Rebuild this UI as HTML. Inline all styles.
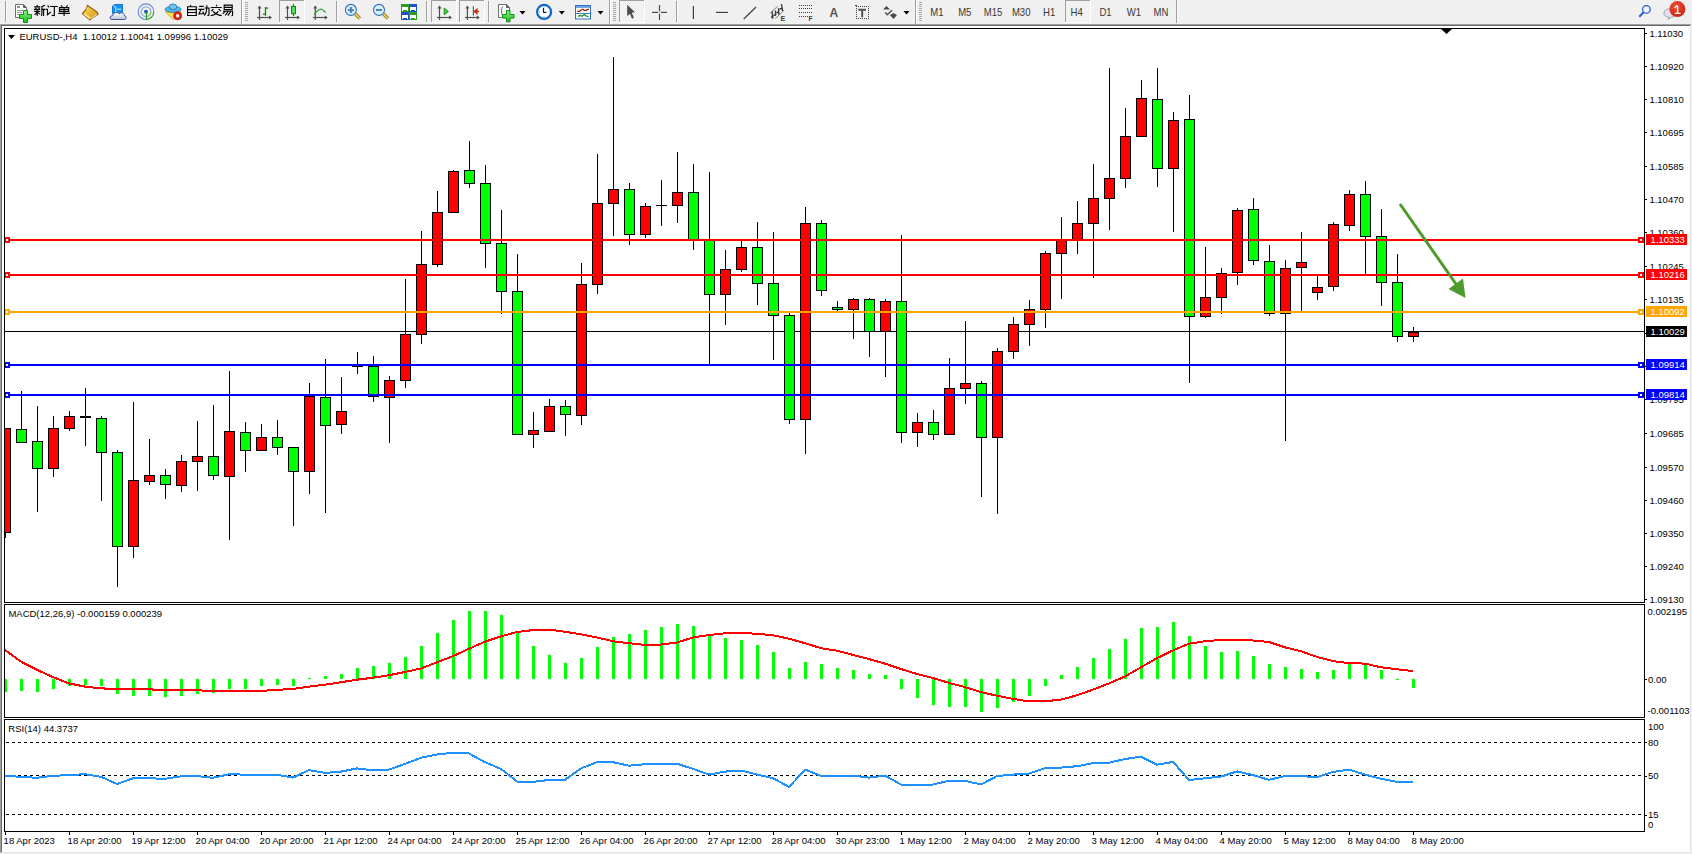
<!DOCTYPE html><html><head><meta charset="utf-8"><style>html,body{margin:0;padding:0;background:#f0f0f0;width:1692px;height:854px;overflow:hidden}svg{display:block;position:absolute;left:0;top:0}</style></head><body>
<svg width="1692" height="854" viewBox="0 0 1692 854" style="font-family:'Liberation Sans', sans-serif">
<rect x="0" y="0" width="1692" height="854" fill="#f0f0f0"/>
<g shape-rendering="crispEdges">
<rect x="0" y="24" width="1691" height="830" fill="#ffffff"/>
<rect x="0" y="24" width="1691" height="1" fill="#a0a0a0"/>
<rect x="0" y="25" width="1690" height="1" fill="#696969"/>
<rect x="0" y="24" width="1" height="830" fill="#a0a0a0"/>
<rect x="1" y="25" width="1" height="829" fill="#696969"/>
<rect x="1690" y="25" width="1" height="828" fill="#e3e3e3"/>
<rect x="1691" y="24" width="1" height="830" fill="#f0f0f0"/>
<rect x="1" y="852" width="1690" height="1" fill="#e3e3e3"/>
<rect x="0" y="853" width="1692" height="1" fill="#f0f0f0"/>
</g>
<defs><clipPath id="cm"><rect x="5" y="29" width="1639" height="573"/></clipPath></defs>
<g shape-rendering="crispEdges">
<g clip-path="url(#cm)">
<rect x="5" y="331" width="1639" height="1" fill="#000"/>
<rect x="5" y="428" width="1" height="110" fill="#000"/>
<rect x="0" y="428" width="11" height="105" fill="#000"/>
<rect x="1" y="429" width="9" height="103" fill="#ff0000"/>
<rect x="21" y="391" width="1" height="52" fill="#000"/>
<rect x="16" y="429" width="11" height="14" fill="#000"/>
<rect x="17" y="430" width="9" height="12" fill="#00ff00"/>
<rect x="37" y="406" width="1" height="106" fill="#000"/>
<rect x="32" y="441" width="11" height="28" fill="#000"/>
<rect x="33" y="442" width="9" height="26" fill="#00ff00"/>
<rect x="53" y="416" width="1" height="61" fill="#000"/>
<rect x="48" y="428" width="11" height="41" fill="#000"/>
<rect x="49" y="429" width="9" height="39" fill="#ff0000"/>
<rect x="69" y="411" width="1" height="20" fill="#000"/>
<rect x="64" y="416" width="11" height="13" fill="#000"/>
<rect x="65" y="417" width="9" height="11" fill="#ff0000"/>
<rect x="85" y="388" width="1" height="58" fill="#000"/>
<rect x="80" y="416" width="11" height="2" fill="#000"/>
<rect x="101" y="416" width="1" height="85" fill="#000"/>
<rect x="96" y="418" width="11" height="35" fill="#000"/>
<rect x="97" y="419" width="9" height="33" fill="#00ff00"/>
<rect x="117" y="450" width="1" height="137" fill="#000"/>
<rect x="112" y="452" width="11" height="95" fill="#000"/>
<rect x="113" y="453" width="9" height="93" fill="#00ff00"/>
<rect x="133" y="402" width="1" height="156" fill="#000"/>
<rect x="128" y="480" width="11" height="67" fill="#000"/>
<rect x="129" y="481" width="9" height="65" fill="#ff0000"/>
<rect x="149" y="439" width="1" height="46" fill="#000"/>
<rect x="144" y="475" width="11" height="7" fill="#000"/>
<rect x="145" y="476" width="9" height="5" fill="#ff0000"/>
<rect x="165" y="469" width="1" height="30" fill="#000"/>
<rect x="160" y="475" width="11" height="10" fill="#000"/>
<rect x="161" y="476" width="9" height="8" fill="#00ff00"/>
<rect x="181" y="455" width="1" height="37" fill="#000"/>
<rect x="176" y="461" width="11" height="25" fill="#000"/>
<rect x="177" y="462" width="9" height="23" fill="#ff0000"/>
<rect x="197" y="421" width="1" height="70" fill="#000"/>
<rect x="192" y="456" width="11" height="6" fill="#000"/>
<rect x="193" y="457" width="9" height="4" fill="#ff0000"/>
<rect x="213" y="405" width="1" height="75" fill="#000"/>
<rect x="208" y="456" width="11" height="20" fill="#000"/>
<rect x="209" y="457" width="9" height="18" fill="#00ff00"/>
<rect x="229" y="371" width="1" height="169" fill="#000"/>
<rect x="224" y="431" width="11" height="46" fill="#000"/>
<rect x="225" y="432" width="9" height="44" fill="#ff0000"/>
<rect x="245" y="422" width="1" height="50" fill="#000"/>
<rect x="240" y="432" width="11" height="19" fill="#000"/>
<rect x="241" y="433" width="9" height="17" fill="#00ff00"/>
<rect x="261" y="424" width="1" height="26" fill="#000"/>
<rect x="256" y="437" width="11" height="14" fill="#000"/>
<rect x="257" y="438" width="9" height="12" fill="#ff0000"/>
<rect x="277" y="420" width="1" height="35" fill="#000"/>
<rect x="272" y="437" width="11" height="11" fill="#000"/>
<rect x="273" y="438" width="9" height="9" fill="#00ff00"/>
<rect x="293" y="447" width="1" height="79" fill="#000"/>
<rect x="288" y="447" width="11" height="25" fill="#000"/>
<rect x="289" y="448" width="9" height="23" fill="#00ff00"/>
<rect x="309" y="383" width="1" height="111" fill="#000"/>
<rect x="304" y="396" width="11" height="76" fill="#000"/>
<rect x="305" y="397" width="9" height="74" fill="#ff0000"/>
<rect x="325" y="359" width="1" height="154" fill="#000"/>
<rect x="320" y="397" width="11" height="29" fill="#000"/>
<rect x="321" y="398" width="9" height="27" fill="#00ff00"/>
<rect x="341" y="377" width="1" height="57" fill="#000"/>
<rect x="336" y="411" width="11" height="14" fill="#000"/>
<rect x="337" y="412" width="9" height="12" fill="#ff0000"/>
<rect x="357" y="352" width="1" height="22" fill="#000"/>
<rect x="352" y="366" width="11" height="1" fill="#000"/>
<rect x="373" y="356" width="1" height="46" fill="#000"/>
<rect x="368" y="366" width="11" height="31" fill="#000"/>
<rect x="369" y="367" width="9" height="29" fill="#00ff00"/>
<rect x="389" y="376" width="1" height="67" fill="#000"/>
<rect x="384" y="380" width="11" height="18" fill="#000"/>
<rect x="385" y="381" width="9" height="16" fill="#ff0000"/>
<rect x="405" y="279" width="1" height="109" fill="#000"/>
<rect x="400" y="334" width="11" height="47" fill="#000"/>
<rect x="401" y="335" width="9" height="45" fill="#ff0000"/>
<rect x="421" y="231" width="1" height="113" fill="#000"/>
<rect x="416" y="264" width="11" height="71" fill="#000"/>
<rect x="417" y="265" width="9" height="69" fill="#ff0000"/>
<rect x="437" y="191" width="1" height="76" fill="#000"/>
<rect x="432" y="212" width="11" height="53" fill="#000"/>
<rect x="433" y="213" width="9" height="51" fill="#ff0000"/>
<rect x="453" y="170" width="1" height="42" fill="#000"/>
<rect x="448" y="171" width="11" height="42" fill="#000"/>
<rect x="449" y="172" width="9" height="40" fill="#ff0000"/>
<rect x="469" y="141" width="1" height="47" fill="#000"/>
<rect x="464" y="170" width="11" height="14" fill="#000"/>
<rect x="465" y="171" width="9" height="12" fill="#00ff00"/>
<rect x="485" y="165" width="1" height="103" fill="#000"/>
<rect x="480" y="183" width="11" height="61" fill="#000"/>
<rect x="481" y="184" width="9" height="59" fill="#00ff00"/>
<rect x="501" y="210" width="1" height="104" fill="#000"/>
<rect x="496" y="243" width="11" height="49" fill="#000"/>
<rect x="497" y="244" width="9" height="47" fill="#00ff00"/>
<rect x="517" y="254" width="1" height="180" fill="#000"/>
<rect x="512" y="291" width="11" height="144" fill="#000"/>
<rect x="513" y="292" width="9" height="142" fill="#00ff00"/>
<rect x="533" y="412" width="1" height="36" fill="#000"/>
<rect x="528" y="430" width="11" height="5" fill="#000"/>
<rect x="529" y="431" width="9" height="3" fill="#ff0000"/>
<rect x="549" y="399" width="1" height="33" fill="#000"/>
<rect x="544" y="406" width="11" height="26" fill="#000"/>
<rect x="545" y="407" width="9" height="24" fill="#ff0000"/>
<rect x="565" y="400" width="1" height="36" fill="#000"/>
<rect x="560" y="406" width="11" height="9" fill="#000"/>
<rect x="561" y="407" width="9" height="7" fill="#00ff00"/>
<rect x="581" y="263" width="1" height="162" fill="#000"/>
<rect x="576" y="284" width="11" height="132" fill="#000"/>
<rect x="577" y="285" width="9" height="130" fill="#ff0000"/>
<rect x="597" y="154" width="1" height="140" fill="#000"/>
<rect x="592" y="203" width="11" height="82" fill="#000"/>
<rect x="593" y="204" width="9" height="80" fill="#ff0000"/>
<rect x="613" y="57" width="1" height="179" fill="#000"/>
<rect x="608" y="189" width="11" height="15" fill="#000"/>
<rect x="609" y="190" width="9" height="13" fill="#ff0000"/>
<rect x="629" y="183" width="1" height="62" fill="#000"/>
<rect x="624" y="189" width="11" height="46" fill="#000"/>
<rect x="625" y="190" width="9" height="44" fill="#00ff00"/>
<rect x="645" y="203" width="1" height="35" fill="#000"/>
<rect x="640" y="206" width="11" height="29" fill="#000"/>
<rect x="641" y="207" width="9" height="27" fill="#ff0000"/>
<rect x="661" y="180" width="1" height="46" fill="#000"/>
<rect x="656" y="205" width="11" height="1" fill="#000"/>
<rect x="677" y="152" width="1" height="71" fill="#000"/>
<rect x="672" y="192" width="11" height="14" fill="#000"/>
<rect x="673" y="193" width="9" height="12" fill="#ff0000"/>
<rect x="693" y="164" width="1" height="86" fill="#000"/>
<rect x="688" y="192" width="11" height="48" fill="#000"/>
<rect x="689" y="193" width="9" height="46" fill="#00ff00"/>
<rect x="709" y="172" width="1" height="192" fill="#000"/>
<rect x="704" y="239" width="11" height="56" fill="#000"/>
<rect x="705" y="240" width="9" height="54" fill="#00ff00"/>
<rect x="725" y="250" width="1" height="75" fill="#000"/>
<rect x="720" y="269" width="11" height="26" fill="#000"/>
<rect x="721" y="270" width="9" height="24" fill="#ff0000"/>
<rect x="741" y="240" width="1" height="32" fill="#000"/>
<rect x="736" y="247" width="11" height="23" fill="#000"/>
<rect x="737" y="248" width="9" height="21" fill="#ff0000"/>
<rect x="757" y="222" width="1" height="83" fill="#000"/>
<rect x="752" y="247" width="11" height="37" fill="#000"/>
<rect x="753" y="248" width="9" height="35" fill="#00ff00"/>
<rect x="773" y="232" width="1" height="128" fill="#000"/>
<rect x="768" y="283" width="11" height="33" fill="#000"/>
<rect x="769" y="284" width="9" height="31" fill="#00ff00"/>
<rect x="789" y="313" width="1" height="111" fill="#000"/>
<rect x="784" y="315" width="11" height="105" fill="#000"/>
<rect x="785" y="316" width="9" height="103" fill="#00ff00"/>
<rect x="805" y="207" width="1" height="247" fill="#000"/>
<rect x="800" y="223" width="11" height="197" fill="#000"/>
<rect x="801" y="224" width="9" height="195" fill="#ff0000"/>
<rect x="821" y="220" width="1" height="76" fill="#000"/>
<rect x="816" y="223" width="11" height="68" fill="#000"/>
<rect x="817" y="224" width="9" height="66" fill="#00ff00"/>
<rect x="837" y="301" width="1" height="10" fill="#000"/>
<rect x="832" y="307" width="11" height="3" fill="#000"/>
<rect x="833" y="308" width="9" height="1" fill="#00ff00"/>
<rect x="853" y="298" width="1" height="41" fill="#000"/>
<rect x="848" y="299" width="11" height="11" fill="#000"/>
<rect x="849" y="300" width="9" height="9" fill="#ff0000"/>
<rect x="869" y="298" width="1" height="59" fill="#000"/>
<rect x="864" y="299" width="11" height="33" fill="#000"/>
<rect x="865" y="300" width="9" height="31" fill="#00ff00"/>
<rect x="885" y="299" width="1" height="78" fill="#000"/>
<rect x="880" y="301" width="11" height="31" fill="#000"/>
<rect x="881" y="302" width="9" height="29" fill="#ff0000"/>
<rect x="901" y="235" width="1" height="208" fill="#000"/>
<rect x="896" y="301" width="11" height="132" fill="#000"/>
<rect x="897" y="302" width="9" height="130" fill="#00ff00"/>
<rect x="917" y="413" width="1" height="34" fill="#000"/>
<rect x="912" y="422" width="11" height="11" fill="#000"/>
<rect x="913" y="423" width="9" height="9" fill="#ff0000"/>
<rect x="933" y="410" width="1" height="30" fill="#000"/>
<rect x="928" y="422" width="11" height="13" fill="#000"/>
<rect x="929" y="423" width="9" height="11" fill="#00ff00"/>
<rect x="949" y="358" width="1" height="76" fill="#000"/>
<rect x="944" y="388" width="11" height="47" fill="#000"/>
<rect x="945" y="389" width="9" height="45" fill="#ff0000"/>
<rect x="965" y="321" width="1" height="83" fill="#000"/>
<rect x="960" y="383" width="11" height="6" fill="#000"/>
<rect x="961" y="384" width="9" height="4" fill="#ff0000"/>
<rect x="981" y="381" width="1" height="116" fill="#000"/>
<rect x="976" y="383" width="11" height="55" fill="#000"/>
<rect x="977" y="384" width="9" height="53" fill="#00ff00"/>
<rect x="997" y="348" width="1" height="166" fill="#000"/>
<rect x="992" y="351" width="11" height="87" fill="#000"/>
<rect x="993" y="352" width="9" height="85" fill="#ff0000"/>
<rect x="1013" y="317" width="1" height="42" fill="#000"/>
<rect x="1008" y="324" width="11" height="28" fill="#000"/>
<rect x="1009" y="325" width="9" height="26" fill="#ff0000"/>
<rect x="1029" y="300" width="1" height="46" fill="#000"/>
<rect x="1024" y="309" width="11" height="16" fill="#000"/>
<rect x="1025" y="310" width="9" height="14" fill="#ff0000"/>
<rect x="1045" y="251" width="1" height="77" fill="#000"/>
<rect x="1040" y="253" width="11" height="57" fill="#000"/>
<rect x="1041" y="254" width="9" height="55" fill="#ff0000"/>
<rect x="1061" y="217" width="1" height="82" fill="#000"/>
<rect x="1056" y="239" width="11" height="15" fill="#000"/>
<rect x="1057" y="240" width="9" height="13" fill="#ff0000"/>
<rect x="1077" y="201" width="1" height="53" fill="#000"/>
<rect x="1072" y="223" width="11" height="17" fill="#000"/>
<rect x="1073" y="224" width="9" height="15" fill="#ff0000"/>
<rect x="1093" y="164" width="1" height="114" fill="#000"/>
<rect x="1088" y="198" width="11" height="26" fill="#000"/>
<rect x="1089" y="199" width="9" height="24" fill="#ff0000"/>
<rect x="1109" y="68" width="1" height="162" fill="#000"/>
<rect x="1104" y="178" width="11" height="21" fill="#000"/>
<rect x="1105" y="179" width="9" height="19" fill="#ff0000"/>
<rect x="1125" y="108" width="1" height="80" fill="#000"/>
<rect x="1120" y="136" width="11" height="43" fill="#000"/>
<rect x="1121" y="137" width="9" height="41" fill="#ff0000"/>
<rect x="1141" y="80" width="1" height="56" fill="#000"/>
<rect x="1136" y="98" width="11" height="39" fill="#000"/>
<rect x="1137" y="99" width="9" height="37" fill="#ff0000"/>
<rect x="1157" y="68" width="1" height="119" fill="#000"/>
<rect x="1152" y="99" width="11" height="70" fill="#000"/>
<rect x="1153" y="100" width="9" height="68" fill="#00ff00"/>
<rect x="1173" y="112" width="1" height="120" fill="#000"/>
<rect x="1168" y="120" width="11" height="49" fill="#000"/>
<rect x="1169" y="121" width="9" height="47" fill="#ff0000"/>
<rect x="1189" y="95" width="1" height="288" fill="#000"/>
<rect x="1184" y="119" width="11" height="198" fill="#000"/>
<rect x="1185" y="120" width="9" height="196" fill="#00ff00"/>
<rect x="1205" y="247" width="1" height="71" fill="#000"/>
<rect x="1200" y="297" width="11" height="20" fill="#000"/>
<rect x="1201" y="298" width="9" height="18" fill="#ff0000"/>
<rect x="1221" y="268" width="1" height="46" fill="#000"/>
<rect x="1216" y="273" width="11" height="25" fill="#000"/>
<rect x="1217" y="274" width="9" height="23" fill="#ff0000"/>
<rect x="1237" y="208" width="1" height="77" fill="#000"/>
<rect x="1232" y="210" width="11" height="63" fill="#000"/>
<rect x="1233" y="211" width="9" height="61" fill="#ff0000"/>
<rect x="1253" y="198" width="1" height="67" fill="#000"/>
<rect x="1248" y="209" width="11" height="52" fill="#000"/>
<rect x="1249" y="210" width="9" height="50" fill="#00ff00"/>
<rect x="1269" y="245" width="1" height="71" fill="#000"/>
<rect x="1264" y="261" width="11" height="53" fill="#000"/>
<rect x="1265" y="262" width="9" height="51" fill="#00ff00"/>
<rect x="1285" y="260" width="1" height="181" fill="#000"/>
<rect x="1280" y="268" width="11" height="46" fill="#000"/>
<rect x="1281" y="269" width="9" height="44" fill="#ff0000"/>
<rect x="1301" y="232" width="1" height="79" fill="#000"/>
<rect x="1296" y="262" width="11" height="6" fill="#000"/>
<rect x="1297" y="263" width="9" height="4" fill="#ff0000"/>
<rect x="1317" y="276" width="1" height="24" fill="#000"/>
<rect x="1312" y="287" width="11" height="6" fill="#000"/>
<rect x="1313" y="288" width="9" height="4" fill="#ff0000"/>
<rect x="1333" y="222" width="1" height="69" fill="#000"/>
<rect x="1328" y="224" width="11" height="63" fill="#000"/>
<rect x="1329" y="225" width="9" height="61" fill="#ff0000"/>
<rect x="1349" y="190" width="1" height="41" fill="#000"/>
<rect x="1344" y="194" width="11" height="32" fill="#000"/>
<rect x="1345" y="195" width="9" height="30" fill="#ff0000"/>
<rect x="1365" y="181" width="1" height="93" fill="#000"/>
<rect x="1360" y="194" width="11" height="43" fill="#000"/>
<rect x="1361" y="195" width="9" height="41" fill="#00ff00"/>
<rect x="1381" y="209" width="1" height="97" fill="#000"/>
<rect x="1376" y="236" width="11" height="47" fill="#000"/>
<rect x="1377" y="237" width="9" height="45" fill="#00ff00"/>
<rect x="1397" y="254" width="1" height="88" fill="#000"/>
<rect x="1392" y="282" width="11" height="55" fill="#000"/>
<rect x="1393" y="283" width="9" height="53" fill="#00ff00"/>
<rect x="1413" y="327" width="1" height="15" fill="#000"/>
<rect x="1408" y="332" width="11" height="5" fill="#000"/>
<rect x="1409" y="333" width="9" height="3" fill="#ff0000"/>
</g>
<rect x="4" y="239" width="1640" height="2" fill="#ff0000"/>
<rect x="4" y="237" width="6" height="6" fill="#ff0000"/>
<rect x="6" y="239" width="2" height="2" fill="#fff"/>
<rect x="1638" y="237" width="6" height="6" fill="#ff0000"/>
<rect x="1640" y="239" width="2" height="2" fill="#fff"/>
<rect x="4" y="274" width="1640" height="2" fill="#ff0000"/>
<rect x="4" y="272" width="6" height="6" fill="#ff0000"/>
<rect x="6" y="274" width="2" height="2" fill="#fff"/>
<rect x="1638" y="272" width="6" height="6" fill="#ff0000"/>
<rect x="1640" y="274" width="2" height="2" fill="#fff"/>
<rect x="4" y="311" width="1640" height="2" fill="#ffa500"/>
<rect x="4" y="309" width="6" height="6" fill="#ffa500"/>
<rect x="6" y="311" width="2" height="2" fill="#fff"/>
<rect x="1638" y="309" width="6" height="6" fill="#ffa500"/>
<rect x="1640" y="311" width="2" height="2" fill="#fff"/>
<rect x="4" y="364" width="1640" height="2" fill="#0000ff"/>
<rect x="4" y="362" width="6" height="6" fill="#0000ff"/>
<rect x="6" y="364" width="2" height="2" fill="#fff"/>
<rect x="1638" y="362" width="6" height="6" fill="#0000ff"/>
<rect x="1640" y="364" width="2" height="2" fill="#fff"/>
<rect x="4" y="394" width="1640" height="2" fill="#0000ff"/>
<rect x="4" y="392" width="6" height="6" fill="#0000ff"/>
<rect x="6" y="394" width="2" height="2" fill="#fff"/>
<rect x="1638" y="392" width="6" height="6" fill="#0000ff"/>
<rect x="1640" y="394" width="2" height="2" fill="#fff"/>
</g>
<g fill="#4f9a2c" stroke="none">
<line x1="1400" y1="204" x2="1456" y2="284" stroke="#4f9a2c" stroke-width="3"/>
<polygon points="1448.5,289 1463,278.5 1465.5,298"/>
</g>
<polygon points="1441,29 1452,29 1446.5,34" fill="#000"/>
<g shape-rendering="crispEdges" fill="#000">
<rect x="4" y="28" width="1641" height="1"/>
<rect x="4" y="602" width="1641" height="1"/>
<rect x="4" y="28" width="1" height="575"/>
<rect x="1644" y="28" width="1" height="575"/>
<rect x="4" y="604" width="1641" height="1"/>
<rect x="4" y="717" width="1641" height="1"/>
<rect x="4" y="604" width="1" height="114"/>
<rect x="1644" y="604" width="1" height="114"/>
<rect x="4" y="719" width="1641" height="1"/>
<rect x="4" y="831" width="1641" height="1"/>
<rect x="4" y="719" width="1" height="113"/>
<rect x="1644" y="719" width="1" height="113"/>
</g>
<g font-size="9.5" fill="#000">
<rect x="1645" y="33" width="2" height="1" shape-rendering="crispEdges"/>
<text x="1649.4" y="37">1.11030</text>
<rect x="1645" y="66" width="2" height="1" shape-rendering="crispEdges"/>
<text x="1649.4" y="70">1.10920</text>
<rect x="1645" y="99" width="2" height="1" shape-rendering="crispEdges"/>
<text x="1649.4" y="103">1.10810</text>
<rect x="1645" y="132" width="2" height="1" shape-rendering="crispEdges"/>
<text x="1649.4" y="136">1.10695</text>
<rect x="1645" y="166" width="2" height="1" shape-rendering="crispEdges"/>
<text x="1649.4" y="170">1.10585</text>
<rect x="1645" y="199" width="2" height="1" shape-rendering="crispEdges"/>
<text x="1649.4" y="203">1.10470</text>
<rect x="1645" y="232" width="2" height="1" shape-rendering="crispEdges"/>
<text x="1649.4" y="236">1.10360</text>
<rect x="1645" y="266" width="2" height="1" shape-rendering="crispEdges"/>
<text x="1649.4" y="270">1.10245</text>
<rect x="1645" y="299" width="2" height="1" shape-rendering="crispEdges"/>
<text x="1649.4" y="303">1.10135</text>
<rect x="1645" y="333" width="2" height="1" shape-rendering="crispEdges"/>
<text x="1649.4" y="337">1.10025</text>
<rect x="1645" y="366" width="2" height="1" shape-rendering="crispEdges"/>
<text x="1649.4" y="370">1.09910</text>
<rect x="1645" y="399" width="2" height="1" shape-rendering="crispEdges"/>
<text x="1649.4" y="403">1.09795</text>
<rect x="1645" y="433" width="2" height="1" shape-rendering="crispEdges"/>
<text x="1649.4" y="437">1.09685</text>
<rect x="1645" y="467" width="2" height="1" shape-rendering="crispEdges"/>
<text x="1649.4" y="471">1.09570</text>
<rect x="1645" y="500" width="2" height="1" shape-rendering="crispEdges"/>
<text x="1649.4" y="504">1.09460</text>
<rect x="1645" y="533" width="2" height="1" shape-rendering="crispEdges"/>
<text x="1649.4" y="537">1.09350</text>
<rect x="1645" y="566" width="2" height="1" shape-rendering="crispEdges"/>
<text x="1649.4" y="570">1.09240</text>
<rect x="1645" y="599" width="2" height="1" shape-rendering="crispEdges"/>
<text x="1649.4" y="603">1.09130</text>
</g>
<rect x="1646" y="234" width="41" height="11" fill="#ff0000" shape-rendering="crispEdges"/>
<text x="1650.5" y="242.6" font-size="9.5" fill="#fff">1.10333</text>
<rect x="1646" y="269" width="41" height="11" fill="#ff0000" shape-rendering="crispEdges"/>
<text x="1650.5" y="277.6" font-size="9.5" fill="#fff">1.10216</text>
<rect x="1646" y="306" width="41" height="11" fill="#ffa500" shape-rendering="crispEdges"/>
<text x="1650.5" y="314.6" font-size="9.5" fill="#fff">1.10092</text>
<rect x="1646" y="359" width="41" height="11" fill="#0000ff" shape-rendering="crispEdges"/>
<text x="1650.5" y="367.6" font-size="9.5" fill="#fff">1.09914</text>
<rect x="1646" y="389" width="41" height="11" fill="#0000ff" shape-rendering="crispEdges"/>
<text x="1650.5" y="397.6" font-size="9.5" fill="#fff">1.09814</text>
<rect x="1646" y="326" width="41" height="11" fill="#000000" shape-rendering="crispEdges"/>
<text x="1650.5" y="334.6" font-size="9.5" fill="#fff">1.10029</text>
<polygon points="8,35 15,35 11.5,39" fill="#000"/>
<text x="19.4" y="40" font-size="9.5" fill="#000" xml:space="preserve">EURUSD-,H4  1.10012 1.10041 1.09996 1.10029</text>
<defs><clipPath id="cmacd"><rect x="5" y="605" width="1639" height="112"/></clipPath></defs>
<g clip-path="url(#cmacd)" shape-rendering="crispEdges" fill="#00ff00">
<rect x="4" y="679" width="3" height="13"/>
<rect x="20" y="679" width="3" height="12"/>
<rect x="36" y="679" width="3" height="13"/>
<rect x="52" y="679" width="3" height="10"/>
<rect x="68" y="679" width="3" height="7"/>
<rect x="84" y="679" width="3" height="6"/>
<rect x="100" y="679" width="3" height="7"/>
<rect x="116" y="679" width="3" height="15"/>
<rect x="132" y="679" width="3" height="17"/>
<rect x="148" y="679" width="3" height="17"/>
<rect x="164" y="679" width="3" height="18"/>
<rect x="180" y="679" width="3" height="17"/>
<rect x="196" y="679" width="3" height="15"/>
<rect x="212" y="679" width="3" height="14"/>
<rect x="228" y="679" width="3" height="10"/>
<rect x="244" y="679" width="3" height="10"/>
<rect x="260" y="679" width="3" height="7"/>
<rect x="276" y="679" width="3" height="6"/>
<rect x="292" y="679" width="3" height="7"/>
<rect x="308" y="678" width="3" height="1"/>
<rect x="324" y="676" width="3" height="3"/>
<rect x="340" y="674" width="3" height="5"/>
<rect x="356" y="668" width="3" height="11"/>
<rect x="372" y="666" width="3" height="13"/>
<rect x="388" y="663" width="3" height="16"/>
<rect x="404" y="657" width="3" height="22"/>
<rect x="420" y="646" width="3" height="33"/>
<rect x="436" y="633" width="3" height="46"/>
<rect x="452" y="620" width="3" height="59"/>
<rect x="468" y="611" width="3" height="68"/>
<rect x="484" y="611" width="3" height="68"/>
<rect x="500" y="615" width="3" height="64"/>
<rect x="516" y="633" width="3" height="46"/>
<rect x="532" y="646" width="3" height="33"/>
<rect x="548" y="655" width="3" height="24"/>
<rect x="564" y="663" width="3" height="16"/>
<rect x="580" y="658" width="3" height="21"/>
<rect x="596" y="647" width="3" height="32"/>
<rect x="612" y="637" width="3" height="42"/>
<rect x="628" y="634" width="3" height="45"/>
<rect x="644" y="630" width="3" height="49"/>
<rect x="660" y="627" width="3" height="52"/>
<rect x="676" y="624" width="3" height="55"/>
<rect x="692" y="626" width="3" height="53"/>
<rect x="708" y="634" width="3" height="45"/>
<rect x="724" y="638" width="3" height="41"/>
<rect x="740" y="640" width="3" height="39"/>
<rect x="756" y="645" width="3" height="34"/>
<rect x="772" y="652" width="3" height="27"/>
<rect x="788" y="668" width="3" height="11"/>
<rect x="804" y="662" width="3" height="17"/>
<rect x="820" y="664" width="3" height="15"/>
<rect x="836" y="668" width="3" height="11"/>
<rect x="852" y="670" width="3" height="9"/>
<rect x="868" y="674" width="3" height="5"/>
<rect x="884" y="675" width="3" height="4"/>
<rect x="900" y="679" width="3" height="10"/>
<rect x="916" y="679" width="3" height="19"/>
<rect x="932" y="679" width="3" height="26"/>
<rect x="948" y="679" width="3" height="28"/>
<rect x="964" y="679" width="3" height="28"/>
<rect x="980" y="679" width="3" height="33"/>
<rect x="996" y="679" width="3" height="29"/>
<rect x="1012" y="679" width="3" height="23"/>
<rect x="1028" y="679" width="3" height="17"/>
<rect x="1044" y="679" width="3" height="7"/>
<rect x="1060" y="675" width="3" height="4"/>
<rect x="1076" y="667" width="3" height="12"/>
<rect x="1092" y="658" width="3" height="21"/>
<rect x="1108" y="649" width="3" height="30"/>
<rect x="1124" y="639" width="3" height="40"/>
<rect x="1140" y="628" width="3" height="51"/>
<rect x="1156" y="627" width="3" height="52"/>
<rect x="1172" y="622" width="3" height="57"/>
<rect x="1188" y="636" width="3" height="43"/>
<rect x="1204" y="646" width="3" height="33"/>
<rect x="1220" y="652" width="3" height="27"/>
<rect x="1236" y="651" width="3" height="28"/>
<rect x="1252" y="656" width="3" height="23"/>
<rect x="1268" y="664" width="3" height="15"/>
<rect x="1284" y="667" width="3" height="12"/>
<rect x="1300" y="669" width="3" height="10"/>
<rect x="1316" y="672" width="3" height="7"/>
<rect x="1332" y="670" width="3" height="9"/>
<rect x="1348" y="664" width="3" height="15"/>
<rect x="1364" y="664" width="3" height="15"/>
<rect x="1380" y="670" width="3" height="9"/>
<rect x="1396" y="679" width="3" height="1"/>
<rect x="1412" y="679" width="3" height="9"/>
</g>
<g clip-path="url(#cmacd)"><polyline points="5,650 21,661.6 37,669.8 53,677.2 69,683.4 85,686.6 101,688.4 117,688.9 133,689.1 149,689.4 165,689.9 181,689.9 197,690.1 213,691.4 229,691.4 245,691.4 261,690.9 277,689.9 293,688.9 309,686.6 325,684.7 341,682.2 357,679.7 373,677.7 389,675.2 405,672 421,668.5 437,662.3 453,656.1 469,648.7 485,641.7 501,636.3 517,632 533,630.1 549,629.6 565,631.8 581,634.3 597,637.5 613,641.2 629,643.2 645,645 661,644.5 677,642.5 693,637.5 709,635 725,633.3 741,632.8 757,633.8 773,635.3 789,638.7 805,643.2 821,648.2 837,650.7 853,654.9 869,659.1 885,663.6 901,669 917,674 933,678 949,682.9 965,687.1 981,692.1 997,695.8 1013,698.8 1029,701.5 1045,701.3 1061,699.6 1077,695.3 1093,689.6 1109,683.4 1125,676.5 1141,667.3 1157,658.1 1173,650.4 1189,643.7 1205,641.2 1221,640 1237,640 1253,640.5 1269,642 1285,647.4 1301,651.2 1317,656.9 1333,661.1 1349,663.1 1365,663.6 1381,667.3 1397,669.3 1413,671" fill="none" stroke="#ff0000" stroke-width="2" shape-rendering="crispEdges"/></g>
<text x="8.4" y="617" font-size="9.5" fill="#000">MACD(12,26,9) -0.000159 0.000239</text>
<g font-size="9.5" fill="#000">
<text x="1647.5" y="615">0.002195</text>
<rect x="1645" y="679" width="2" height="1" shape-rendering="crispEdges"/>
<text x="1648" y="683">0.00</text>
<text x="1647.5" y="714">-0.001103</text>
</g>
<g shape-rendering="crispEdges">
<line x1="6" y1="742.5" x2="1643" y2="742.5" stroke="#000" stroke-width="1" stroke-dasharray="3,3"/>
<line x1="6" y1="775.5" x2="1643" y2="775.5" stroke="#000" stroke-width="1" stroke-dasharray="3,3"/>
<line x1="6" y1="814.5" x2="1643" y2="814.5" stroke="#000" stroke-width="1" stroke-dasharray="3,3"/>
</g>
<polyline points="5,775.8 21,776.8 37,777.8 53,775.8 69,775.1 85,774.1 101,776.8 117,784 133,778.3 149,778.3 165,778.8 181,776.3 197,776.1 213,777.8 229,774.3 245,774.6 261,774.8 277,774.8 293,777.6 309,770.1 325,772.9 341,771.6 357,768.4 373,770.4 389,769.6 405,763.9 421,757.7 437,754.5 453,752.7 469,753.5 485,762.2 501,768.9 517,781.5 533,781.8 549,780 565,779.8 581,768.4 597,762.2 613,762.2 629,765.7 645,764.2 661,763.7 677,763.7 693,768.9 709,774.6 725,771.6 741,770.6 757,774.6 773,778.1 789,787 805,769.6 821,775.8 837,775.6 853,775.6 869,777.6 885,775.6 901,784.5 917,784.5 933,784.5 949,780.8 965,780.8 981,784.5 997,776.1 1013,774.6 1029,773.6 1045,768.1 1061,767.6 1077,766.2 1093,763.2 1109,762.7 1125,759 1141,756.7 1157,764.7 1173,761.9 1189,780 1205,778.3 1221,776.6 1237,771.4 1253,775.1 1269,779.8 1285,776.1 1301,776.1 1317,777.1 1333,771.9 1349,769.6 1365,774.6 1381,778.8 1397,781.8 1413,781.8" fill="none" stroke="#1e90ff" stroke-width="2" shape-rendering="crispEdges"/>
<text x="8.3" y="732" font-size="9.5" fill="#000">RSI(14) 44.3737</text>
<g font-size="9.5" fill="#000">
<text x="1648" y="730.1999999999999">100</text>
<rect x="1645" y="742" width="2" height="1" shape-rendering="crispEdges"/>
<text x="1648" y="745.9">80</text>
<rect x="1645" y="776" width="2" height="1" shape-rendering="crispEdges"/>
<text x="1648" y="779.0">50</text>
<rect x="1645" y="815" width="2" height="1" shape-rendering="crispEdges"/>
<text x="1648" y="818.0">15</text>
<text x="1648" y="828.4">0</text>
</g>
<g font-size="9.5" fill="#000">
<rect x="5" y="832" width="1" height="3" shape-rendering="crispEdges"/>
<text x="3.6" y="844">18 Apr 2023</text>
<rect x="69" y="832" width="1" height="3" shape-rendering="crispEdges"/>
<text x="67.6" y="844">18 Apr 20:00</text>
<rect x="133" y="832" width="1" height="3" shape-rendering="crispEdges"/>
<text x="131.6" y="844">19 Apr 12:00</text>
<rect x="197" y="832" width="1" height="3" shape-rendering="crispEdges"/>
<text x="195.6" y="844">20 Apr 04:00</text>
<rect x="261" y="832" width="1" height="3" shape-rendering="crispEdges"/>
<text x="259.6" y="844">20 Apr 20:00</text>
<rect x="325" y="832" width="1" height="3" shape-rendering="crispEdges"/>
<text x="323.6" y="844">21 Apr 12:00</text>
<rect x="389" y="832" width="1" height="3" shape-rendering="crispEdges"/>
<text x="387.6" y="844">24 Apr 04:00</text>
<rect x="453" y="832" width="1" height="3" shape-rendering="crispEdges"/>
<text x="451.6" y="844">24 Apr 20:00</text>
<rect x="517" y="832" width="1" height="3" shape-rendering="crispEdges"/>
<text x="515.6" y="844">25 Apr 12:00</text>
<rect x="581" y="832" width="1" height="3" shape-rendering="crispEdges"/>
<text x="579.6" y="844">26 Apr 04:00</text>
<rect x="645" y="832" width="1" height="3" shape-rendering="crispEdges"/>
<text x="643.6" y="844">26 Apr 20:00</text>
<rect x="709" y="832" width="1" height="3" shape-rendering="crispEdges"/>
<text x="707.6" y="844">27 Apr 12:00</text>
<rect x="773" y="832" width="1" height="3" shape-rendering="crispEdges"/>
<text x="771.6" y="844">28 Apr 04:00</text>
<rect x="837" y="832" width="1" height="3" shape-rendering="crispEdges"/>
<text x="835.6" y="844">30 Apr 23:00</text>
<rect x="901" y="832" width="1" height="3" shape-rendering="crispEdges"/>
<text x="899.6" y="844">1 May 12:00</text>
<rect x="965" y="832" width="1" height="3" shape-rendering="crispEdges"/>
<text x="963.6" y="844">2 May 04:00</text>
<rect x="1029" y="832" width="1" height="3" shape-rendering="crispEdges"/>
<text x="1027.6" y="844">2 May 20:00</text>
<rect x="1093" y="832" width="1" height="3" shape-rendering="crispEdges"/>
<text x="1091.6" y="844">3 May 12:00</text>
<rect x="1157" y="832" width="1" height="3" shape-rendering="crispEdges"/>
<text x="1155.6" y="844">4 May 04:00</text>
<rect x="1221" y="832" width="1" height="3" shape-rendering="crispEdges"/>
<text x="1219.6" y="844">4 May 20:00</text>
<rect x="1285" y="832" width="1" height="3" shape-rendering="crispEdges"/>
<text x="1283.6" y="844">5 May 12:00</text>
<rect x="1349" y="832" width="1" height="3" shape-rendering="crispEdges"/>
<text x="1347.6" y="844">8 May 04:00</text>
<rect x="1413" y="832" width="1" height="3" shape-rendering="crispEdges"/>
<text x="1411.6" y="844">8 May 20:00</text>
</g>
<defs><pattern id="chk" width="2" height="2" patternUnits="userSpaceOnUse"><rect width="2" height="2" fill="#f8f8f8"/><rect width="1" height="1" fill="#ebebeb"/><rect x="1" y="1" width="1" height="1" fill="#ebebeb"/></pattern><linearGradient id="gplus" x1="0" y1="0" x2="0" y2="1"><stop offset="0" stop-color="#8ff08f"/><stop offset="1" stop-color="#10c010"/></linearGradient><linearGradient id="gold" x1="0" y1="0" x2="1" y2="1"><stop offset="0" stop-color="#ffe060"/><stop offset="1" stop-color="#d09010"/></linearGradient><linearGradient id="cloud" x1="0" y1="0" x2="0" y2="1"><stop offset="0" stop-color="#ffffff"/><stop offset="1" stop-color="#b8c4d8"/></linearGradient><radialGradient id="redc" cx="0.4" cy="0.3" r="0.8"><stop offset="0" stop-color="#f05030"/><stop offset="1" stop-color="#c81e10"/></radialGradient></defs>
<g shape-rendering="crispEdges">
<rect x="5" y="1" width="1" height="21" fill="#a0a0a0"/>
<rect x="6" y="1" width="1" height="21" fill="#ffffff" opacity="0.7"/>
</g>
<path d="M15.5,4.5 H23.5 L26.5,7.5 V17.5 H15.5 Z" fill="#fff" stroke="#707070" stroke-width="1"/>
<path d="M23.5,4.5 V7.5 H26.5" fill="#606060" stroke="#606060" stroke-width="1"/>
<g fill="#909090"><rect x="17" y="6" width="3" height="2"/><rect x="17" y="10" width="6" height="1"/><rect x="17" y="12" width="5" height="1"/><rect x="17" y="14" width="4" height="1"/></g>
<path d="M23.5,10.5 H27.5 V14.5 H31.5 V18.5 H27.5 V22.5 H23.5 V18.5 H19.5 V14.5 H23.5 Z" fill="url(#gplus)" stroke="#109010" stroke-width="1"/>
<g stroke="#000" stroke-width="1.15" fill="none" stroke-linecap="butt">
<path d="M37.2,5 v1.3 M34.2,6.8 h6 M35.6,7.8 l0.5,1.2 M39.3,7.8 l-0.5,1.2 M33.9,9.4 h6.3 M34.2,11.4 h6 M37.2,9.4 v6.5 M37,12.4 l-2.5,2.5 M37.5,12.4 l2.6,2 M44.9,5.2 l-3,1.5 v6.5 q0,1.8 -0.6,2.7 M41.9,9.4 h3.6 M43.6,9.4 v6.5"/>
<path d="M47.6,5.5 l1.4,1.8 M45.9,9.4 h1.6 v5.3 l3.4,-2.8 M50.1,6.5 h7.7 M54.3,6.5 v9.1 l-2.7,-0.3"/>
<path d="M61,5.2 l1.2,1.8 M67.5,5.2 l-1.2,1.8 M59.5,7.5 h9.2 v3.9 h-9.2 z M59.5,9.4 h9.2 M64.1,7.5 v8.4 M58.3,13.4 h11.7"/>
</g>
<path d="M87.5,5.5 L96.8,11.8 L98,14.3 L89.8,19.8 L82.5,13.6 L86.2,9.2 Z" fill="url(#gold)" stroke="#9a5a08" stroke-width="1.2"/>
<path d="M84.2,13.9 L90.2,18.6" stroke="#fff0a8" stroke-width="1.6" fill="none"/>
<path d="M90.8,18.8 L97,14.4" stroke="#d8c890" stroke-width="1.3" fill="none"/>
<path d="M87.3,7 L86.8,9.6" stroke="#ffe890" stroke-width="0.8" fill="none"/>
<path d="M112.5,13.5 V6 L114.5,4.5 H122.5 V13.5 Z" fill="#1a90f0" stroke="#1478d8" stroke-width="1"/>
<path d="M113.6,5.5 L115.8,7.2 V13.2" stroke="#d8f0ff" stroke-width="1" fill="none"/>
<path d="M117.2,9.2 h4" stroke="#d0ecff" stroke-width="1" fill="none"/>
<path d="M111.6,19.5 C109.4,19.5 109.6,15.4 112.6,15.7 C113.2,12.4 117.2,11.4 119.2,13.6 C121.2,12 124.6,13 124.4,15.6 C126.6,16 126.6,19.5 124.4,19.5 Z" fill="url(#cloud)" stroke="#405088" stroke-width="1"/>
<g fill="none" stroke-width="1.2">
<path d="M146,19.5 A7.8,7.8 0 1 1 153.8,11.7" stroke="#3c6cd0" opacity="0.75"/>
<path d="M153.8,11.7 A7.8,7.8 0 0 1 146,19.5" stroke="#30a030"/>
<path d="M146,16.6 A4.9,4.9 0 1 1 150.9,11.7" stroke="#5080d8" opacity="0.6"/>
<path d="M150.9,11.7 A4.9,4.9 0 0 1 146,16.6" stroke="#50b050" opacity="0.8"/>
</g>
<circle cx="146" cy="11.7" r="1.9" fill="#2050c8"/>
<line x1="146.5" y1="12" x2="146.5" y2="19.8" stroke="#18a018" stroke-width="1.2"/>
<path d="M165.5,12 L181,11 L173.5,19.8 Z" fill="#f8e040" stroke="#c8a020" stroke-width="0.8"/>
<ellipse cx="173" cy="9.3" rx="8" ry="3" fill="#58b4e4" stroke="#2080b0" stroke-width="0.9"/>
<ellipse cx="173" cy="6.8" rx="3.8" ry="2.8" fill="#70c4ee" stroke="#2080b0" stroke-width="0.9"/>
<circle cx="177.6" cy="15.8" r="4" fill="#e02010" stroke="#b01808" stroke-width="0.8"/>
<rect x="176.2" y="14.3" width="3" height="3" fill="#fff"/>
<g stroke="#000" stroke-width="1.15" fill="none" stroke-linecap="butt">
<path d="M190.8,5 l-0.4,1.2 M187.6,6.7 h8.7 v8.8 h-8.7 z M187.6,9.6 h8.7 M187.6,12.5 h8.7"/>
<path d="M199.2,6.3 h4.5 M198.3,9.3 h6 M200.9,9.5 l-1.9,4.6 l4.6,-0.6 M202.7,11.6 l1.3,2.6 M204.6,8 h4.4 v6.5 q0,1.3 -1.6,0.9 M206.8,5.3 v3 q-0.2,4.8 -2.4,7.2"/>
<path d="M216.2,4.9 l0.7,1.2 M210.8,7.5 h11 M213.4,9 l-2,2.2 M218.6,9 l2.2,2.2 M212.9,11.3 q3.4,3.5 8.9,4.3 M218.4,11.3 q-2.8,3.6 -7.8,4.5"/>
<path d="M224.2,5.1 h8 v4.5 h-8 z M224.2,7.3 h8 M223,11.2 h9.6 v3.6 q0,1 -1.2,0.8 M225.4,11.2 l-2.6,2.6 M228,11.8 l-2.8,3.6 M230.6,11.8 l-2.8,3.8"/>
</g>
<g shape-rendering="crispEdges">
<rect x="241" y="0" width="1" height="24" fill="#a0a0a0"/>
<rect x="242" y="0" width="1" height="24" fill="#ffffff"/>
<rect x="245" y="2" width="3" height="1" fill="#a8a8a8"/>
<rect x="245" y="4" width="3" height="1" fill="#a8a8a8"/>
<rect x="245" y="6" width="3" height="1" fill="#a8a8a8"/>
<rect x="245" y="8" width="3" height="1" fill="#a8a8a8"/>
<rect x="245" y="10" width="3" height="1" fill="#a8a8a8"/>
<rect x="245" y="12" width="3" height="1" fill="#a8a8a8"/>
<rect x="245" y="14" width="3" height="1" fill="#a8a8a8"/>
<rect x="245" y="16" width="3" height="1" fill="#a8a8a8"/>
<rect x="245" y="18" width="3" height="1" fill="#a8a8a8"/>
<rect x="245" y="20" width="3" height="1" fill="#a8a8a8"/>
</g>
<g stroke="#505050" stroke-width="1.2" fill="none"><line x1="259.5" y1="6.5" x2="259.5" y2="20"/><line x1="257.0" y1="17.5" x2="271.0" y2="17.5"/></g>
<polygon points="257.5,8.5 259.5,5.5 261.5,8.5" fill="#505050"/>
<polygon points="269.0,15.5 272.0,17.5 269.0,19.5" fill="#505050"/>
<path d="M265.5,7 V15.8 M265.5,8.2 H268.2 M265.5,14.2 H262.8" stroke="#0a8a0a" stroke-width="1.3" fill="none"/>
<g shape-rendering="crispEdges">
<rect x="279" y="0" width="25" height="22" fill="url(#chk)"/>
<rect x="279" y="0" width="25" height="1" fill="#a0a0a0"/>
<rect x="279" y="0" width="1" height="22" fill="#a0a0a0"/>
<rect x="279" y="22" width="26" height="1" fill="#ffffff"/>
<rect x="304" y="0" width="1" height="23" fill="#ffffff"/>
</g>
<g stroke="#505050" stroke-width="1.2" fill="none"><line x1="287.5" y1="6.5" x2="287.5" y2="20"/><line x1="285.0" y1="17.5" x2="299.0" y2="17.5"/></g>
<polygon points="285.5,8.5 287.5,5.5 289.5,8.5" fill="#505050"/>
<polygon points="297.0,15.5 300.0,17.5 297.0,19.5" fill="#505050"/>
<line x1="293.5" y1="4" x2="293.5" y2="16.2" stroke="#0a8a0a" stroke-width="1.2"/>
<rect x="291.5" y="6.5" width="4" height="7.2" fill="#50e060" stroke="#0a8a0a" stroke-width="1"/>
<g stroke="#505050" stroke-width="1.2" fill="none"><line x1="315.3" y1="6.5" x2="315.3" y2="20"/><line x1="312.8" y1="17.5" x2="326.8" y2="17.5"/></g>
<polygon points="313.3,8.5 315.3,5.5 317.3,8.5" fill="#505050"/>
<polygon points="324.8,15.5 327.8,17.5 324.8,19.5" fill="#505050"/>
<path d="M314.2,14.6 Q320,6.5 323.5,10.5 Q325,12 325.8,12.5" stroke="#2a9a2a" stroke-width="1.1" fill="none"/>
<g shape-rendering="crispEdges">
<rect x="336" y="1" width="1" height="21" fill="#a0a0a0"/>
<rect x="337" y="1" width="1" height="21" fill="#ffffff" opacity="0.7"/>
</g>
<line x1="355.4" y1="14" x2="359.9" y2="18.5" stroke="#a07010" stroke-width="3.2"/>
<line x1="355.4" y1="14" x2="359.9" y2="18.5" stroke="#f0e070" stroke-width="1.6"/>
<circle cx="350.9" cy="9.9" r="5.5" fill="#d8f0fa" stroke="#3070c0" stroke-width="1.1"/>
<rect x="347.9" y="9" width="6" height="2" fill="#4a86b0"/>
<rect x="349.9" y="7" width="2" height="6" fill="#4a86b0"/>
<line x1="383.5" y1="14" x2="388" y2="18.5" stroke="#a07010" stroke-width="3.2"/>
<line x1="383.5" y1="14" x2="388" y2="18.5" stroke="#f0e070" stroke-width="1.6"/>
<circle cx="379" cy="9.9" r="5.5" fill="#d8f0fa" stroke="#3070c0" stroke-width="1.1"/>
<rect x="376" y="9" width="6" height="2" fill="#4a86b0"/>
<rect x="401" y="4" width="8" height="8" fill="#2e9e1e"/>
<rect x="402" y="7" width="6" height="3" fill="#ffffff"/>
<rect x="402" y="10" width="1" height="1" fill="#ffffff"/><rect x="407" y="10" width="1" height="1" fill="#ffffff"/>
<rect x="409" y="4" width="8" height="8" fill="#1e50c8"/>
<rect x="410" y="7" width="6" height="3" fill="#ffffff"/>
<rect x="410" y="10" width="1" height="1" fill="#ffffff"/><rect x="415" y="10" width="1" height="1" fill="#ffffff"/>
<rect x="401" y="12" width="8" height="8" fill="#1e50c8"/>
<rect x="402" y="15" width="6" height="3" fill="#ffffff"/>
<rect x="402" y="18" width="1" height="1" fill="#ffffff"/><rect x="407" y="18" width="1" height="1" fill="#ffffff"/>
<rect x="409" y="12" width="8" height="8" fill="#2e9e1e"/>
<rect x="410" y="15" width="6" height="3" fill="#ffffff"/>
<rect x="410" y="18" width="1" height="1" fill="#ffffff"/><rect x="415" y="18" width="1" height="1" fill="#ffffff"/>
<g shape-rendering="crispEdges">
<rect x="426" y="1" width="1" height="21" fill="#a0a0a0"/>
<rect x="427" y="1" width="1" height="21" fill="#ffffff" opacity="0.7"/>
<rect x="431" y="0" width="25" height="22" fill="url(#chk)"/>
<rect x="431" y="0" width="25" height="1" fill="#a0a0a0"/>
<rect x="431" y="0" width="1" height="22" fill="#a0a0a0"/>
<rect x="431" y="22" width="26" height="1" fill="#ffffff"/>
<rect x="456" y="0" width="1" height="23" fill="#ffffff"/>
<rect x="459" y="0" width="25" height="22" fill="url(#chk)"/>
<rect x="459" y="0" width="25" height="1" fill="#a0a0a0"/>
<rect x="459" y="0" width="1" height="22" fill="#a0a0a0"/>
<rect x="459" y="22" width="26" height="1" fill="#ffffff"/>
<rect x="484" y="0" width="1" height="23" fill="#ffffff"/>
<rect x="488" y="1" width="1" height="21" fill="#a0a0a0"/>
<rect x="489" y="1" width="1" height="21" fill="#ffffff" opacity="0.7"/>
</g>
<g stroke="#505050" stroke-width="1.2" fill="none"><line x1="439.5" y1="6.5" x2="439.5" y2="20"/><line x1="437.0" y1="17.5" x2="451.0" y2="17.5"/></g>
<polygon points="437.5,8.5 439.5,5.5 441.5,8.5" fill="#505050"/>
<polygon points="449.0,15.5 452.0,17.5 449.0,19.5" fill="#505050"/>
<polygon points="444.2,8 448.4,11.5 444.2,14.9" fill="#40d040" stroke="#109010" stroke-width="0.9"/>
<g stroke="#505050" stroke-width="1.2" fill="none"><line x1="467.4" y1="6.5" x2="467.4" y2="20"/><line x1="464.9" y1="17.5" x2="478.9" y2="17.5"/></g>
<polygon points="465.4,8.5 467.4,5.5 469.4,8.5" fill="#505050"/>
<polygon points="476.9,15.5 479.9,17.5 476.9,19.5" fill="#505050"/>
<line x1="473.4" y1="6.2" x2="473.4" y2="15.6" stroke="#2070a0" stroke-width="1.2"/>
<path d="M479,11.4 H476 M474.2,11.4 L477,9 V13.8 Z" stroke="#c83010" stroke-width="1.2" fill="#e05010"/>
<path d="M498.5,4.5 H506.5 L509.5,7.5 V17.5 H498.5 Z" fill="#fff" stroke="#707070" stroke-width="1"/>
<path d="M506.5,4.5 V7.5 H509.5" fill="#606060" stroke="#606060" stroke-width="1"/>
<path d="M503,7 q-1.3,0 -1.3,1.5 v6" stroke="#404040" stroke-width="0.8" fill="none"/>
<path d="M506.5,10.5 H510 V14.5 H514 V18 H510 V21.8 H506.5 V18 H502.5 V14.5 H506.5 Z" fill="url(#gplus)" stroke="#109010" stroke-width="1"/>
<polygon points="519.5,11 525.5,11 522.5,14.5" fill="#000"/>
<circle cx="544.1" cy="11.9" r="7" fill="#ffffff" stroke="#1068c8" stroke-width="2.2"/>
<path d="M543.5,8 V12.3 H546.5" stroke="#202020" stroke-width="1.2" fill="none"/>
<g fill="#909090"><rect x="543.6" y="6.5" width="1" height="1"/><rect x="543.6" y="16.2" width="1" height="1"/><rect x="539" y="11.4" width="1" height="1"/><rect x="548.6" y="11.4" width="1" height="1"/></g>
<polygon points="558.8,11 564.8,11 561.8,14.5" fill="#000"/>
<rect x="575.5" y="5.5" width="15" height="13.5" fill="#ffffff" stroke="#3070c0" stroke-width="1"/>
<rect x="576" y="6" width="14" height="2" fill="#70a8e0"/>
<rect x="576" y="13" width="14" height="1" fill="#4a80c8"/>
<path d="M577.3,11.3 H579.5 L581,10.2 L582.8,9.2 L584.2,10.3 L585.8,10.3 L587.8,9.4 L589,9.4" stroke="#a01808" stroke-width="1.2" fill="none"/>
<path d="M578,16.4 L580.5,15.4 L582,16.2 L584.5,14.3 L586,16 L588.5,16.6" stroke="#10901a" stroke-width="1.2" fill="none"/>
<polygon points="597.5,11 603.5,11 600.5,14.5" fill="#000"/>
<g shape-rendering="crispEdges">
<rect x="609" y="0" width="1" height="24" fill="#a0a0a0"/>
<rect x="610" y="0" width="1" height="24" fill="#ffffff"/>
<rect x="613" y="2" width="3" height="1" fill="#a8a8a8"/>
<rect x="613" y="4" width="3" height="1" fill="#a8a8a8"/>
<rect x="613" y="6" width="3" height="1" fill="#a8a8a8"/>
<rect x="613" y="8" width="3" height="1" fill="#a8a8a8"/>
<rect x="613" y="10" width="3" height="1" fill="#a8a8a8"/>
<rect x="613" y="12" width="3" height="1" fill="#a8a8a8"/>
<rect x="613" y="14" width="3" height="1" fill="#a8a8a8"/>
<rect x="613" y="16" width="3" height="1" fill="#a8a8a8"/>
<rect x="613" y="18" width="3" height="1" fill="#a8a8a8"/>
<rect x="613" y="20" width="3" height="1" fill="#a8a8a8"/>
<rect x="619" y="0" width="25" height="22" fill="url(#chk)"/>
<rect x="619" y="0" width="25" height="1" fill="#a0a0a0"/>
<rect x="619" y="0" width="1" height="22" fill="#a0a0a0"/>
<rect x="619" y="22" width="26" height="1" fill="#ffffff"/>
<rect x="644" y="0" width="1" height="23" fill="#ffffff"/>
</g>
<polygon points="627.2,4.8 635,12.3 631.8,12.6 633.8,17.8 632,18.8 630,13.8 627.2,16" fill="#4a4a4a"/>
<g stroke="#4a4a4a" stroke-width="1.2"><line x1="659.5" y1="5" x2="659.5" y2="11.3"/><line x1="659.5" y1="13.7" x2="659.5" y2="20"/><line x1="652" y1="12.4" x2="658.3" y2="12.4"/><line x1="660.7" y1="12.4" x2="667" y2="12.4"/></g>
<g shape-rendering="crispEdges">
<rect x="676" y="1" width="1" height="21" fill="#a0a0a0"/>
<rect x="677" y="1" width="1" height="21" fill="#ffffff" opacity="0.7"/>
</g>
<g stroke="#404040" stroke-width="1.2">
<line x1="693.4" y1="6" x2="693.4" y2="19"/>
<line x1="716" y1="12.4" x2="728" y2="12.4"/>
<line x1="743.7" y1="19" x2="756.1" y2="7"/>
<line x1="769.9" y1="13.3" x2="777.6" y2="6.3" stroke="#707070" stroke-width="0.9"/>
<line x1="775.3" y1="18.6" x2="784" y2="10.4" stroke="#707070" stroke-width="0.9"/>
<path d="M772.3,11.5 L772.6,18.8 M775.4,10.5 L775.7,15.4 M778.5,8.2 L778.9,14.6 M781.5,4.2 L782.6,11 M771,17 h2.5 M773.5,15.2 h2.5 M776.5,12.5 h2.5 M779.6,8.8 h2.5" stroke="#3a3a3a" stroke-width="1.4"/>
</g>
<text x="780.6" y="21" font-size="7" font-weight="bold" fill="#3a3a3a">E</text>
<g fill="#404040">
<rect x="799" y="5" width="1" height="1"/>
<rect x="801" y="5" width="1" height="1"/>
<rect x="803" y="5" width="1" height="1"/>
<rect x="805" y="5" width="1" height="1"/>
<rect x="807" y="5" width="1" height="1"/>
<rect x="809" y="5" width="1" height="1"/>
<rect x="811" y="5" width="1" height="1"/>
<rect x="799" y="8" width="1" height="1"/>
<rect x="801" y="8" width="1" height="1"/>
<rect x="803" y="8" width="1" height="1"/>
<rect x="805" y="8" width="1" height="1"/>
<rect x="807" y="8" width="1" height="1"/>
<rect x="809" y="8" width="1" height="1"/>
<rect x="811" y="8" width="1" height="1"/>
<rect x="799" y="12" width="1" height="1"/>
<rect x="801" y="12" width="1" height="1"/>
<rect x="803" y="12" width="1" height="1"/>
<rect x="805" y="12" width="1" height="1"/>
<rect x="807" y="12" width="1" height="1"/>
<rect x="809" y="12" width="1" height="1"/>
<rect x="811" y="12" width="1" height="1"/>
<rect x="799" y="16" width="1" height="1"/>
<rect x="801" y="16" width="1" height="1"/>
<rect x="803" y="16" width="1" height="1"/>
<rect x="805" y="16" width="1" height="1"/>
<rect x="807" y="16" width="1" height="1"/>
</g>
<text x="808.6" y="20.6" font-size="6.6" font-weight="bold" fill="#404040">F</text>
<text x="829.6" y="17.2" font-size="12" font-weight="bold" fill="#555555">A</text>
<g fill="#404040">
<rect x="856" y="6" width="1" height="1"/><rect x="856" y="18" width="1" height="1"/>
<rect x="858" y="6" width="1" height="1"/><rect x="858" y="18" width="1" height="1"/>
<rect x="860" y="6" width="1" height="1"/><rect x="860" y="18" width="1" height="1"/>
<rect x="862" y="6" width="1" height="1"/><rect x="862" y="18" width="1" height="1"/>
<rect x="864" y="6" width="1" height="1"/><rect x="864" y="18" width="1" height="1"/>
<rect x="866" y="6" width="1" height="1"/><rect x="866" y="18" width="1" height="1"/>
<rect x="868" y="6" width="1" height="1"/><rect x="868" y="18" width="1" height="1"/>
<rect x="856" y="6" width="1" height="1"/><rect x="868" y="6" width="1" height="1"/>
<rect x="856" y="8" width="1" height="1"/><rect x="868" y="8" width="1" height="1"/>
<rect x="856" y="10" width="1" height="1"/><rect x="868" y="10" width="1" height="1"/>
<rect x="856" y="12" width="1" height="1"/><rect x="868" y="12" width="1" height="1"/>
<rect x="856" y="14" width="1" height="1"/><rect x="868" y="14" width="1" height="1"/>
<rect x="856" y="16" width="1" height="1"/><rect x="868" y="16" width="1" height="1"/>
<rect x="855" y="5" width="2" height="1"/>
</g>
<path d="M858.3,9.8 H866 M862.2,9.8 V17.2" stroke="#505050" stroke-width="1.9" fill="none"/>
<polygon points="883,9.6 886.5,6 890,9.6" fill="#4a4a4a"/>
<path d="M885.3,12.5 L887.3,14.8 L892,10.3" stroke="#4a4a4a" stroke-width="1.4" fill="none"/>
<polygon points="890,15 897,15 893.5,19" fill="#4a4a4a"/>
<polygon points="889.5,15.2 893.5,13 897.2,15.2" fill="#4a4a4a"/>
<polygon points="903.5,11 909.5,11 906.5,14.5" fill="#000"/>
<g shape-rendering="crispEdges">
<rect x="915" y="0" width="1" height="24" fill="#a0a0a0"/>
<rect x="916" y="0" width="1" height="24" fill="#ffffff"/>
<rect x="919" y="2" width="3" height="1" fill="#a8a8a8"/>
<rect x="919" y="4" width="3" height="1" fill="#a8a8a8"/>
<rect x="919" y="6" width="3" height="1" fill="#a8a8a8"/>
<rect x="919" y="8" width="3" height="1" fill="#a8a8a8"/>
<rect x="919" y="10" width="3" height="1" fill="#a8a8a8"/>
<rect x="919" y="12" width="3" height="1" fill="#a8a8a8"/>
<rect x="919" y="14" width="3" height="1" fill="#a8a8a8"/>
<rect x="919" y="16" width="3" height="1" fill="#a8a8a8"/>
<rect x="919" y="18" width="3" height="1" fill="#a8a8a8"/>
<rect x="919" y="20" width="3" height="1" fill="#a8a8a8"/>
<rect x="1065" y="0" width="25" height="22" fill="url(#chk)"/>
<rect x="1065" y="0" width="25" height="1" fill="#a0a0a0"/>
<rect x="1065" y="0" width="1" height="22" fill="#a0a0a0"/>
<rect x="1065" y="22" width="26" height="1" fill="#ffffff"/>
<rect x="1090" y="0" width="1" height="23" fill="#ffffff"/>
<rect x="1176" y="0" width="1" height="23" fill="#a0a0a0"/>
<rect x="1177" y="0" width="1" height="23" fill="#ffffff" opacity="0.7"/>
</g>
<g font-size="10.4" fill="#383838" text-anchor="middle">
<text transform="translate(937,16) scale(0.92,1)">M1</text>
<text transform="translate(964.8,16) scale(0.92,1)">M5</text>
<text transform="translate(993,16) scale(0.92,1)">M15</text>
<text transform="translate(1021.2,16) scale(0.92,1)">M30</text>
<text transform="translate(1049.2,16) scale(0.92,1)">H1</text>
<text transform="translate(1076.6,16) scale(0.92,1)">H4</text>
<text transform="translate(1105.5,16) scale(0.92,1)">D1</text>
<text transform="translate(1134,16) scale(0.92,1)">W1</text>
<text transform="translate(1161,16) scale(0.92,1)">MN</text>
</g>
<circle cx="1646.4" cy="9.4" r="3.8" fill="#f4f4ff" stroke="#2860d0" stroke-width="1.3"/>
<line x1="1643.6" y1="12.3" x2="1639.3" y2="16.7" stroke="#2860d0" stroke-width="2"/>
<path d="M1668,19.5 l1,-2.2 q-5.5,-0.5 -5,-4.5 q0.5,-4 6,-4 q6,0 6,4 q0,4 -5,4.5 Z" fill="#dde0ea" stroke="#a0a0a8" stroke-width="0.9"/>
<circle cx="1677.4" cy="9.1" r="8" fill="url(#redc)"/>
<path d="M1677.6,5.4 V13.2 M1674.6,8 L1677.2,5.6 M1674.8,13.4 H1680.6" stroke="#ffffff" stroke-width="1.4" fill="none"/>
</svg></body></html>
